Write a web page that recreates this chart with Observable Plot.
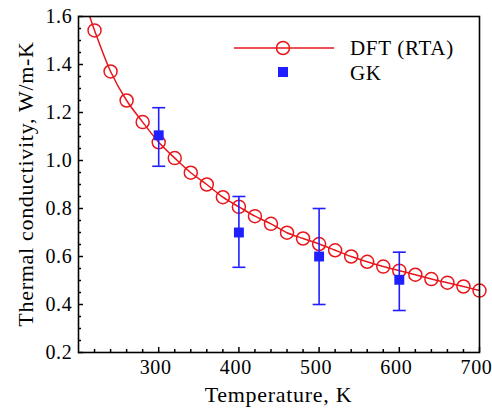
<!DOCTYPE html>
<html>
<head>
<meta charset="utf-8">
<script src="https://cdn.jsdelivr.net/npm/d3@7"></script>
<script src="https://cdn.jsdelivr.net/npm/@observablehq/plot@0.6"></script>
<style>
  html, body { margin: 0; padding: 0; background: #fff; }
  #chart { position: relative; width: 492px; height: 411px; }
  #chart svg text { font-family: "Liberation Serif", serif !important; }
</style>
</head>
<body>
<div id="chart"></div>
<script>
// ---- data ----
const dftT = [220, 240, 260, 280, 300, 320, 340, 360, 380, 400, 420, 440, 460, 480, 500, 520, 540, 560, 580, 600, 620, 640, 660, 680, 700];
const dftK = [1.542, 1.371, 1.250, 1.160, 1.076, 1.010, 0.949, 0.900, 0.847, 0.807, 0.768, 0.736, 0.699, 0.675, 0.652, 0.626, 0.600, 0.578, 0.558, 0.541, 0.524, 0.506, 0.491, 0.475, 0.458];
// curve continues to the top edge of the frame
const lineStartT = 214;
const lineStartK = 1.60;

const gkT = [300, 400, 500, 600];
const gkK = [1.105, 0.700, 0.600, 0.503];
const gkLo = [0.976, 0.555, 0.400, 0.375];
const gkHi = [1.220, 0.850, 0.800, 0.618];

const xMajor = [300, 400, 500, 600, 700];
const xMinor = [220, 240, 260, 280, 320, 340, 360, 380, 420, 440, 460, 480, 520, 540, 560, 580, 620, 640, 660, 680];
const yMajor = [0.2, 0.4, 0.6, 0.8, 1.0, 1.2, 1.4, 1.6];
const yMinor = [0.25, 0.3, 0.35, 0.45, 0.5, 0.55, 0.65, 0.7, 0.75, 0.85, 0.9, 0.95, 1.05, 1.1, 1.15, 1.25, 1.3, 1.35, 1.45, 1.5, 1.55];

const seriesNames = ["DFT (RTA)", "GK"];
const xLabel = "Temperature, K";
const yLabel = "Thermal conductivity, W/m-K";

// ---- build tables ----
const dft = dftT.map((t, i) => ({T: t, k: dftK[i]}));
const dftLine = [{T: lineStartT, k: lineStartK}, ...dft];
const gk = gkT.map((t, i) => ({T: t, k: gkK[i], lo: gkLo[i], hi: gkHi[i]}));

const RED = "#e8161c";
const BLUE = "#1f1fff";
const FONT = "'Liberation Serif', serif";

const W = 492, H = 411;
const mL = 78, mR = 13, mT = 16, mB = 59;
const innerW = W - mL - mR, innerH = H - mT - mB;

const capSymbol = {
  draw(ctx, size) {
    const w = Math.sqrt(size);
    ctx.moveTo(-w / 2, 0);
    ctx.lineTo(w / 2, 0);
  }
};

const chart = Plot.plot({
  width: W,
  height: H,
  marginLeft: mL,
  marginRight: mR,
  marginTop: mT,
  marginBottom: mB,
  style: {fontFamily: FONT, fontSize: "20px", color: "black", background: "white", letterSpacing: "0.7px"},
  x: {domain: [200, 700], axis: null},
  y: {domain: [0.2, 1.6], axis: null},
  marks: [
    // tick labels
    Plot.axisX({ticks: xMajor, tickSize: 0, tickPadding: 7, dx: -3, tickFormat: d3.format("d"), label: null, fontSize: 20}),
    Plot.axisY({ticks: yMajor, tickSize: 0, tickPadding: 6, tickFormat: d3.format(".1f"), label: null, fontSize: 20}),
    // inward ticks
    Plot.tickX(xMinor, {x: d => d, insetTop: innerH - 3, stroke: "black", strokeWidth: 1.5}),
    Plot.tickX(xMajor, {x: d => d, insetTop: innerH - 5, stroke: "black", strokeWidth: 1.5}),
    Plot.tickY(yMinor, {y: d => d, insetRight: innerW - 3, stroke: "black", strokeWidth: 1.5}),
    Plot.tickY(yMajor, {y: d => d, insetRight: innerW - 5, stroke: "black", strokeWidth: 1.5}),
    // DFT
    Plot.line(dftLine, {x: "T", y: "k", stroke: RED, strokeWidth: 1.5, curve: "catmull-rom"}),
    Plot.dot(dft, {x: "T", y: "k", r: 6.5, stroke: RED, strokeWidth: 1.5, fill: "none"}),
    // GK with error bars
    Plot.ruleX(gk, {x: "T", y1: "lo", y2: "hi", stroke: BLUE, strokeWidth: 1.6}),
    Plot.dot(gk, {x: "T", y: "lo", symbol: capSymbol, r: 7.3, stroke: BLUE, strokeWidth: 1.6}),
    Plot.dot(gk, {x: "T", y: "hi", symbol: capSymbol, r: 7.3, stroke: BLUE, strokeWidth: 1.6}),
    Plot.dot(gk, {x: "T", y: "k", symbol: "square", r: 5.6, fill: BLUE}),
    Plot.frame({stroke: "black", strokeWidth: 1.6})
  ]
});

const svg = d3.select(chart);

// axis titles
svg.append("text")
  .attr("x", mL + innerW / 2)
  .attr("y", 402)
  .attr("text-anchor", "middle")
  .attr("font-family", FONT)
  .attr("font-size", 22)
  .attr("letter-spacing", "0.7px")
  .attr("fill", "black")
  .text(xLabel);

svg.append("text")
  .attr("transform", `translate(33,${mT + innerH / 2}) rotate(-90)`)
  .attr("text-anchor", "middle")
  .attr("font-family", FONT)
  .attr("font-size", 22)
  .attr("letter-spacing", "0.7px")
  .attr("fill", "black")
  .text(yLabel);

// legend
const lg = svg.append("g").attr("font-family", FONT).attr("font-size", 21)
  .attr("letter-spacing", "0.7px").attr("text-anchor", "start");
lg.append("line").attr("x1", 234).attr("x2", 334).attr("y1", 48).attr("y2", 48)
  .attr("stroke", RED).attr("stroke-width", 1.5);
lg.append("circle").attr("cx", 283).attr("cy", 48).attr("r", 6.5)
  .attr("fill", "none").attr("stroke", RED).attr("stroke-width", 1.5);
lg.append("text").attr("x", 350).attr("y", 55).attr("fill", "black").text(seriesNames[0]);
lg.append("rect").attr("x", 278).attr("y", 67).attr("width", 10).attr("height", 10).attr("fill", BLUE);
lg.append("text").attr("x", 350).attr("y", 80).attr("fill", "black").text(seriesNames[1]);

document.getElementById("chart").appendChild(chart);
</script>
</body>
</html>
